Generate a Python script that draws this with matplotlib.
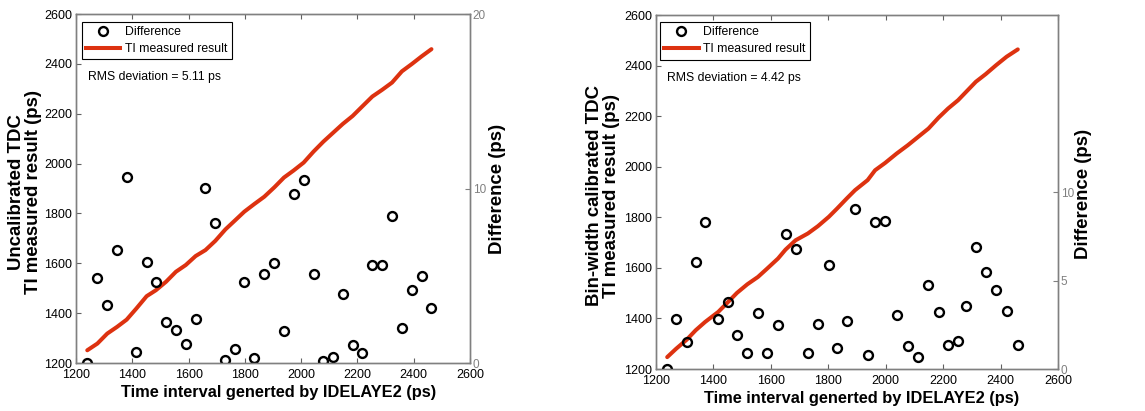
import matplotlib
matplotlib.use("Agg")
import matplotlib.pyplot as plt
from matplotlib.lines import Line2D

plt.rcParams['font.family'] = ['Liberation Sans', 'DejaVu Sans']

# ---- Uncalibrated TDC ----
delay_uncal = [1240, 1276, 1311, 1346, 1380, 1414, 1451, 1484, 1520, 1555, 1590, 1625,
               1660, 1695, 1731, 1766, 1798, 1834, 1869, 1905, 1939, 1973, 2009, 2044,
               2079, 2112, 2148, 2183, 2217, 2253, 2288, 2323, 2358, 2394, 2428, 2463]
measured_uncal = [1251, 1278, 1318, 1345, 1374, 1418, 1468, 1492, 1526, 1566, 1593, 1629,
                  1653, 1690, 1736, 1773, 1807, 1838, 1867, 1905, 1944, 1972, 2004, 2048,
                  2088, 2122, 2159, 2191, 2229, 2269, 2296, 2325, 2370, 2400, 2430, 2459]
diff_uncal = [0.0, 4.89, 3.33, 6.5, 10.64, 0.61, 5.76, 4.63, 2.37, 1.91, 1.07, 2.53,
              10.03, 8.0, 0.19, 0.79, 4.63, 0.27, 5.09, 5.74, 1.81, 9.67, 10.46, 5.09,
              0.11, 0.36, 3.94, 1.03, 0.57, 5.61, 5.61, 8.44, 2.01, 4.16, 4.96, 3.14]
rms_uncal = 5.11

# ---- Bin-width calibrated TDC ----
delay_cal = [1239, 1270, 1307, 1338, 1371, 1417, 1451, 1482, 1518, 1555, 1587, 1625,
             1651, 1686, 1729, 1764, 1802, 1831, 1864, 1893, 1937, 1963, 1998, 2038,
             2077, 2113, 2149, 2184, 2217, 2252, 2280, 2314, 2348, 2385, 2421, 2460]
measured_cal = [1247, 1280, 1316, 1353, 1386, 1426, 1465, 1501, 1535, 1564, 1597, 1637,
                1672, 1709, 1736, 1765, 1802, 1835, 1874, 1907, 1947, 1986, 2015, 2052,
                2085, 2118, 2151, 2194, 2230, 2263, 2296, 2336, 2366, 2402, 2435, 2464]
diff_cal = [0.0, 2.85, 1.53, 6.03, 8.3, 2.85, 3.79, 1.93, 0.92, 3.17, 0.90, 2.47,
            7.63, 6.78, 0.92, 2.56, 5.88, 1.19, 2.7, 9.04, 0.77, 8.29, 8.38, 3.03,
            1.28, 0.68, 4.73, 3.23, 1.34, 1.59, 3.56, 6.91, 5.48, 4.45, 3.26, 1.34]
rms_cal = 4.42

axis_ticks = list(range(1200, 2601, 200))
diff_ticks_uncal = [0, 10, 20]
diff_ticks_cal = [0, 5, 10]

RED = '#dd3210'
GRAY = '#808080'
W, H = 1145, 411

fig = plt.figure(figsize=(W / 100, H / 100), dpi=100)


def px_rect(left, top, right, bottom):
    return [left / W, 1 - bottom / H, (right - left) / W, (bottom - top) / H]


def panel(box, x, measured, diff, diff_ticks, rms, leg_xy, rms_xy):
    ax = fig.add_axes(px_rect(*box))
    ax.plot(x, measured, color=RED, lw=2.9, solid_capstyle='round')
    ax.set_xlim(1200, 2600)
    ax.set_ylim(1200, 2600)
    ax.set_xticks(axis_ticks)
    ax.set_yticks(axis_ticks)
    ax.tick_params(direction='in', length=3.5, width=0.8, color='#606060',
                   labelsize=9, top=True, right=True, labelright=False, pad=3)
    ax.tick_params(axis='x', pad=4)
    for s in ax.spines.values():
        s.set_color(GRAY)
        s.set_linewidth(1.0)

    ax2 = ax.twinx()
    ax2.plot(x, diff, 'o', mfc='none', mec='black', ms=6.4, mew=1.7)
    ax2.set_ylim(0, 20)
    ax2.set_yticks(diff_ticks)
    ax2.tick_params(direction='in', length=3.5, width=0.8, color=GRAY,
                    labelcolor=GRAY, labelsize=8.5, pad=2)
    for s in ax2.spines.values():
        s.set_color(GRAY)
        s.set_linewidth(1.0)

    handles = [Line2D([], [], ls='none', marker='o', mfc='none', mec='black', ms=6.4, mew=1.7),
               Line2D([], [], color=RED, lw=2.9)]
    leg = ax2.legend(handles, ['Difference', 'TI measured result'], loc='upper left',
                     bbox_to_anchor=leg_xy, borderaxespad=0, fontsize=8.8,
                     fancybox=False, framealpha=1, edgecolor='black',
                     handlelength=2.8, handletextpad=0.4, borderpad=0.35,
                     labelspacing=0.4)
    leg.get_frame().set_linewidth(0.8)
    ax2.text(rms_xy[0], rms_xy[1], f'RMS deviation = {rms:.2f} ps', transform=ax2.transAxes,
             fontsize=8.8, ha='left', va='center')
    return ax, ax2


panel((76, 14, 470, 363), delay_uncal, measured_uncal, diff_uncal, diff_ticks_uncal,
      rms_uncal, (0.015, 0.977), (0.030, 0.819))
panel((656, 15, 1058, 369), delay_cal, measured_cal, diff_cal, diff_ticks_cal,
      rms_cal, (0.010, 0.980), (0.027, 0.822))

xlab = dict(fontsize=11.8, fontweight='bold')
ylab = dict(fontsize=13.4, fontweight='bold')
fig.text(279 / W, 1 - 392 / H, 'Time interval generted by IDELAYE2 (ps)', ha='center', va='center', **xlab)
fig.text(862 / W, 1 - 398 / H, 'Time interval generted by IDELAYE2 (ps)', ha='center', va='center', **xlab)
fig.text(25.5 / W, 1 - 192 / H, 'Uncalibrated TDC\nTI measured result (ps)', ha='center', va='center',
         rotation=90, multialignment='center', linespacing=1.0, **ylab)
fig.text(603 / W, 1 - 196 / H, 'Bin-width calibrated TDC\nTI measured result (ps)', ha='center', va='center',
         rotation=90, multialignment='center', linespacing=1.0, **ylab)
fig.text(498 / W, 1 - 189 / H, 'Difference (ps)', ha='center', va='center', rotation=90, **ylab)
fig.text(1083 / W, 1 - 194 / H, 'Difference (ps)', ha='center', va='center', rotation=90, **ylab)

fig.savefig('out.png', dpi=100, facecolor='white')
